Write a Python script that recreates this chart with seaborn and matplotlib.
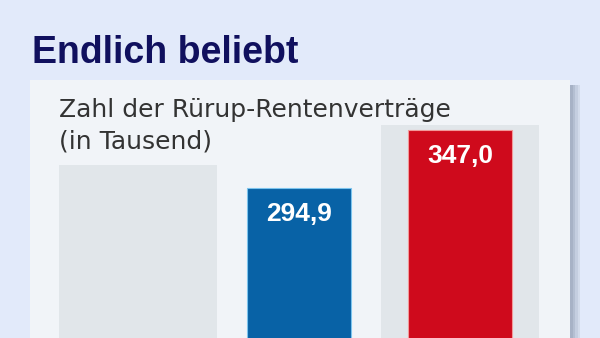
import matplotlib
matplotlib.use("Agg")
import matplotlib.pyplot as plt
import matplotlib.patches as mpatches
import seaborn as sns
import pandas as pd

# Data (thousands of Rürup pension contracts)
categories = ["2005", "2006", "2007"]
bar_categories = ["2006", "2007"]
bar_values = [294.9, 347.0]
bar_colors = ["#0862a6", "#cf0a1c"]
bar_edges = ["#7cc4ee", "#f29a9a"]
stripe_categories = ["2005", "2007"]
stripe_tops = [315.6, 351.5]

title = "Endlich beliebt"
subtitle_1 = "Zahl der Rürup-Rentenverträge"
subtitle_2 = "(in Tausend)"

W, H = 600, 338
sns.set_theme(style="white")
plt.rcParams["font.family"] = ["DejaVu Sans"]

fig = plt.figure(figsize=(W / 100, H / 100), dpi=100)
fig.patch.set_facecolor("#e2eafa")


def fx(px):
    return px / W


def fy(py):
    return 1 - py / H


# panel shadow and panel (drawn beneath the axes)
for i, c in enumerate(["#a7b2c6", "#b4bfd2", "#c4cee0", "#d2dbeb"]):
    fig.patches.append(mpatches.Rectangle((fx(570 + i * 2.5), 0), fx(2.5), fy(85),
                                          transform=fig.transFigure, color=c, zorder=-2, lw=0))
fig.patches.append(mpatches.Rectangle((fx(30), 0), fx(540), fy(80), transform=fig.transFigure,
                                      facecolor="#f1f4f8", edgecolor="none", zorder=-1))

ax = fig.add_axes([fx(30), 0, fx(540), fy(80)])
ax.patch.set_alpha(0)

stripes = pd.DataFrame({"cat": stripe_categories, "top": stripe_tops})
bars = pd.DataFrame({"cat": bar_categories, "value": bar_values})

sns.barplot(data=stripes, x="cat", y="top", order=categories, color="#e1e6ea",
            width=0.98, errorbar=None, saturation=1, linewidth=0, ax=ax)
n_stripe = len(ax.patches)
sns.barplot(data=bars, x="cat", y="value", order=categories, hue="cat",
            hue_order=bar_categories, palette=bar_colors, width=0.646,
            errorbar=None, saturation=1, legend=False, dodge=False, ax=ax)

for p, ec in zip(ax.patches[n_stripe:], bar_edges):
    p.set_edgecolor(ec)
    p.set_linewidth(0.8)

# value labels inside bar tops
for cat, v in zip(bar_categories, bar_values):
    xi = categories.index(cat)
    ax.annotate(f"{v:.1f}".replace(".", ","), (xi, v), xytext=(0, -10.3),
                textcoords="offset points", ha="center", va="top",
                color="white", fontsize=19, fontweight="bold",
                family=["Liberation Sans", "DejaVu Sans"])

ax.set_xlim(-0.6708, 2.683)
ax.set_ylim(160.2, 391.9)
ax.set_xlabel("")
ax.set_ylabel("")
ax.set_xticks([])
ax.set_yticks([])
for s in ax.spines.values():
    s.set_visible(False)

fig.text(fx(32), fy(63), title, fontsize=27, fontweight="bold", color="#10105e",
         family=["Liberation Sans", "DejaVu Sans"], ha="left", va="baseline")
fig.text(fx(59), fy(116.5), subtitle_1, fontsize=18, color="#333333",
         family=["DejaVu Sans"], ha="left", va="baseline")
fig.text(fx(59), fy(148), subtitle_2, fontsize=18, color="#333333",
         family=["DejaVu Sans"], ha="left", va="baseline")

fig.savefig("out.png", dpi=100)
